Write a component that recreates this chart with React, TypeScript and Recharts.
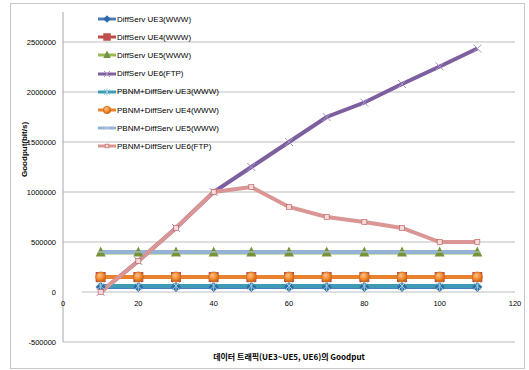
import React from "react";
import { LineChart, Line, XAxis, YAxis, CartesianGrid, ReferenceLine } from "recharts";

// traffic load (x) and goodput series in bit/s
const loads = [10, 20, 30, 40, 50, 60, 70, 80, 90, 100, 110];
const diffUe3 = [50000, 50000, 50000, 50000, 50000, 50000, 50000, 50000, 50000, 50000, 50000];
const diffUe4 = [150000, 150000, 150000, 150000, 150000, 150000, 150000, 150000, 150000, 150000, 150000];
const diffUe5 = [395000, 395000, 395000, 395000, 395000, 395000, 395000, 395000, 395000, 395000, 395000];
const diffUe6 = [0, 310000, 640000, 1000000, 1250000, 1500000, 1750000, 1895000, 2080000, 2255000, 2435000];
const pbnmUe3 = [60000, 60000, 60000, 60000, 60000, 60000, 60000, 60000, 60000, 60000, 60000];
const pbnmUe4 = [150000, 150000, 150000, 150000, 150000, 150000, 150000, 150000, 150000, 150000, 150000];
const pbnmUe5 = [400000, 400000, 400000, 400000, 400000, 400000, 400000, 400000, 400000, 400000, 400000];
const pbnmUe6 = [0, 310000, 640000, 1000000, 1050000, 850000, 750000, 700000, 640000, 500000, 500000];

const xTicks = [0, 20, 40, 60, 80, 100, 120];
const yTicks = [-500000, 0, 500000, 1000000, 1500000, 2000000, 2500000];

type MarkerKind = "diamond" | "square" | "triangle" | "cross" | "star" | "circle" | "dash" | "smallSquare";

const series: { key: string; name: string; color: string; marker: MarkerKind }[] = [
  { key: "diffUe3", name: "DiffServ UE3(WWW)", color: "#4A7EBB", marker: "diamond" },
  { key: "diffUe4", name: "DiffServ UE4(WWW)", color: "#BE4B48", marker: "square" },
  { key: "diffUe5", name: "DiffServ UE5(WWW)", color: "#98B954", marker: "triangle" },
  { key: "diffUe6", name: "DiffServ UE6(FTP)", color: "#7D5FA0", marker: "cross" },
  { key: "pbnmUe3", name: "PBNM+DiffServ UE3(WWW)", color: "#3E9AB5", marker: "star" },
  { key: "pbnmUe4", name: "PBNM+DiffServ UE4(WWW)", color: "#E8822E", marker: "circle" },
  { key: "pbnmUe5", name: "PBNM+DiffServ UE5(WWW)", color: "#95B3D7", marker: "dash" },
  { key: "pbnmUe6", name: "PBNM+DiffServ UE6(FTP)", color: "#D99694", marker: "smallSquare" },
];

const data = loads.map((load, i) => ({
  load,
  diffUe3: diffUe3[i],
  diffUe4: diffUe4[i],
  diffUe5: diffUe5[i],
  diffUe6: diffUe6[i],
  pbnmUe3: pbnmUe3[i],
  pbnmUe4: pbnmUe4[i],
  pbnmUe5: pbnmUe5[i],
  pbnmUe6: pbnmUe6[i],
}));

const font = "'Liberation Sans', Arial, sans-serif";
const krFont = "'Noto Sans CJK KR', 'Liberation Sans', sans-serif";

function Marker({ kind, cx, cy, s = 1 }: { kind: MarkerKind; cx: number; cy: number; s?: number }) {
  const r = 5 * s;
  switch (kind) {
    case "diamond":
      return <polygon points={`${cx},${cy - r} ${cx + r},${cy} ${cx},${cy + r} ${cx - r},${cy}`} fill="#2F6BA6" />;
    case "square":
      return <rect x={cx - r} y={cy - r} width={2 * r} height={2 * r} fill="#C0504D" />;
    case "triangle":
      return (
        <polygon
          points={`${cx},${cy - 1.2 * r} ${cx + r},${cy + 0.8 * r} ${cx - r},${cy + 0.8 * r}`}
          fill="#76933C"
        />
      );
    case "cross":
      return (
        <g stroke="#A593C4" strokeWidth={1}>
          <line x1={cx - 0.8 * r} y1={cy - 0.8 * r} x2={cx + 0.8 * r} y2={cy + 0.8 * r} />
          <line x1={cx - 0.8 * r} y1={cy + 0.8 * r} x2={cx + 0.8 * r} y2={cy - 0.8 * r} />
        </g>
      );
    case "star":
      return (
        <g stroke="#93CDDD" strokeWidth={1}>
          <line x1={cx - 0.8 * r} y1={cy - 0.8 * r} x2={cx + 0.8 * r} y2={cy + 0.8 * r} />
          <line x1={cx - 0.8 * r} y1={cy + 0.8 * r} x2={cx + 0.8 * r} y2={cy - 0.8 * r} />
          <line x1={cx} y1={cy - r} x2={cx} y2={cy + r} />
        </g>
      );
    case "circle":
      return <circle cx={cx} cy={cy} r={r} fill="url(#orangeBall)" stroke="#D5701E" strokeWidth={0.8} />;
    case "dash":
      return <line x1={cx - 0.6 * r} y1={cy} x2={cx + 0.6 * r} y2={cy} stroke="#B9CDE5" strokeWidth={1} />;
    case "smallSquare":
      return (
        <rect
          x={cx - r / 2}
          y={cy - r / 2}
          width={r}
          height={r}
          fill="#F2DCDB"
          stroke="#C0504D"
          strokeWidth={0.6}
        />
      );
  }
}

function LegendBox() {
  return (
    <div
      style={{
        position: "absolute",
        left: 98,
        top: 10,
        fontFamily: font,
        fontSize: 8,
        color: "#000",
      }}
    >
      {series.map((s) => (
        <div key={s.key} style={{ display: "flex", alignItems: "center", height: 18.2 }}>
          <svg width={19} height={10} style={{ display: "block" }}>
            <line x1={0} y1={5} x2={18} y2={5} stroke={s.color} strokeWidth={3} />
            <Marker kind={s.marker} cx={9} cy={5} s={0.75} />
          </svg>
          <span style={{ whiteSpace: "nowrap" }}>{s.name}</span>
        </div>
      ))}
    </div>
  );
}

function XTick({ x, y, payload }: any) {
  // category labels sit just under the zero line, not at the plot bottom
  return (
    <text x={x} y={y - 44} textAnchor="middle" fontSize={7.5} fontFamily={font} fill="#000">
      {payload.value}
    </text>
  );
}

export default function App() {
  return (
    <div style={{ position: "absolute", left: 0, top: 0, width: 529, height: 370, background: "#fff" }}>
      <div
        style={{
          position: "absolute",
          left: 10,
          top: 3,
          width: 515,
          height: 366,
          border: "1px solid #C8C8C8",
          boxSizing: "border-box",
        }}
      />
      <LineChart
        width={529}
        height={370}
        data={data}
        margin={{ top: 12, right: 14, bottom: 0, left: 10 }}
        style={{ position: "absolute", left: 0, top: 0 }}
      >
        <defs>
          <radialGradient id="orangeBall" cx="40%" cy="35%" r="65%">
            <stop offset="0%" stopColor="#FBC08A" />
            <stop offset="60%" stopColor="#F08A2C" />
            <stop offset="100%" stopColor="#C8620E" />
          </radialGradient>
        </defs>
        <CartesianGrid
          vertical={false}
          stroke="#BDBDBD"
          horizontalValues={yTicks.filter((t) => t !== 0)}
        />
        <ReferenceLine
          segment={[
            { x: 5, y: 0 },
            { x: 120, y: 0 },
          ]}
          stroke="#BDBDBD"
        />
        <XAxis
          dataKey="load"
          type="number"
          domain={[0, 120]}
          ticks={xTicks}
          axisLine={false}
          tickLine={false}
          tick={<XTick />}
          height={28}
          interval={0}
          label={{
            value: "데이터 트래픽(UE3~UE5, UE6)의 Goodput",
            position: "insideBottom",
            offset: 10,
            fontSize: 8,
            fontWeight: "bold",
            fontFamily: krFont,
            fill: "#000",
          }}
        />
        <YAxis
          type="number"
          domain={[-500000, 2800000]}
          ticks={yTicks}
          interval={0}
          width={53}
          axisLine={{ stroke: "#A6A6A6" }}
          tickLine={false}
          tickSize={5}
          tickMargin={2}
          tick={{ fontSize: 7.5, fontFamily: font, fill: "#000" }}
          label={{
            value: "Goodput(bit/s)",
            angle: -90,
            position: "insideLeft",
            offset: 14,
            fontSize: 8,
            fontWeight: "bold",
            fontFamily: font,
            fill: "#000",
          }}
        />
        {series.map((s) => (
          <Line
            key={s.key}
            dataKey={s.key}
            name={s.name}
            stroke={s.color}
            strokeWidth={4}
            isAnimationActive={false}
            activeDot={false}
            dot={(p: any) => <Marker key={`${s.key}-${p.index}`} kind={s.marker} cx={p.cx} cy={p.cy} />}
          />
        ))}
      </LineChart>
      <LegendBox />
    </div>
  );
}
